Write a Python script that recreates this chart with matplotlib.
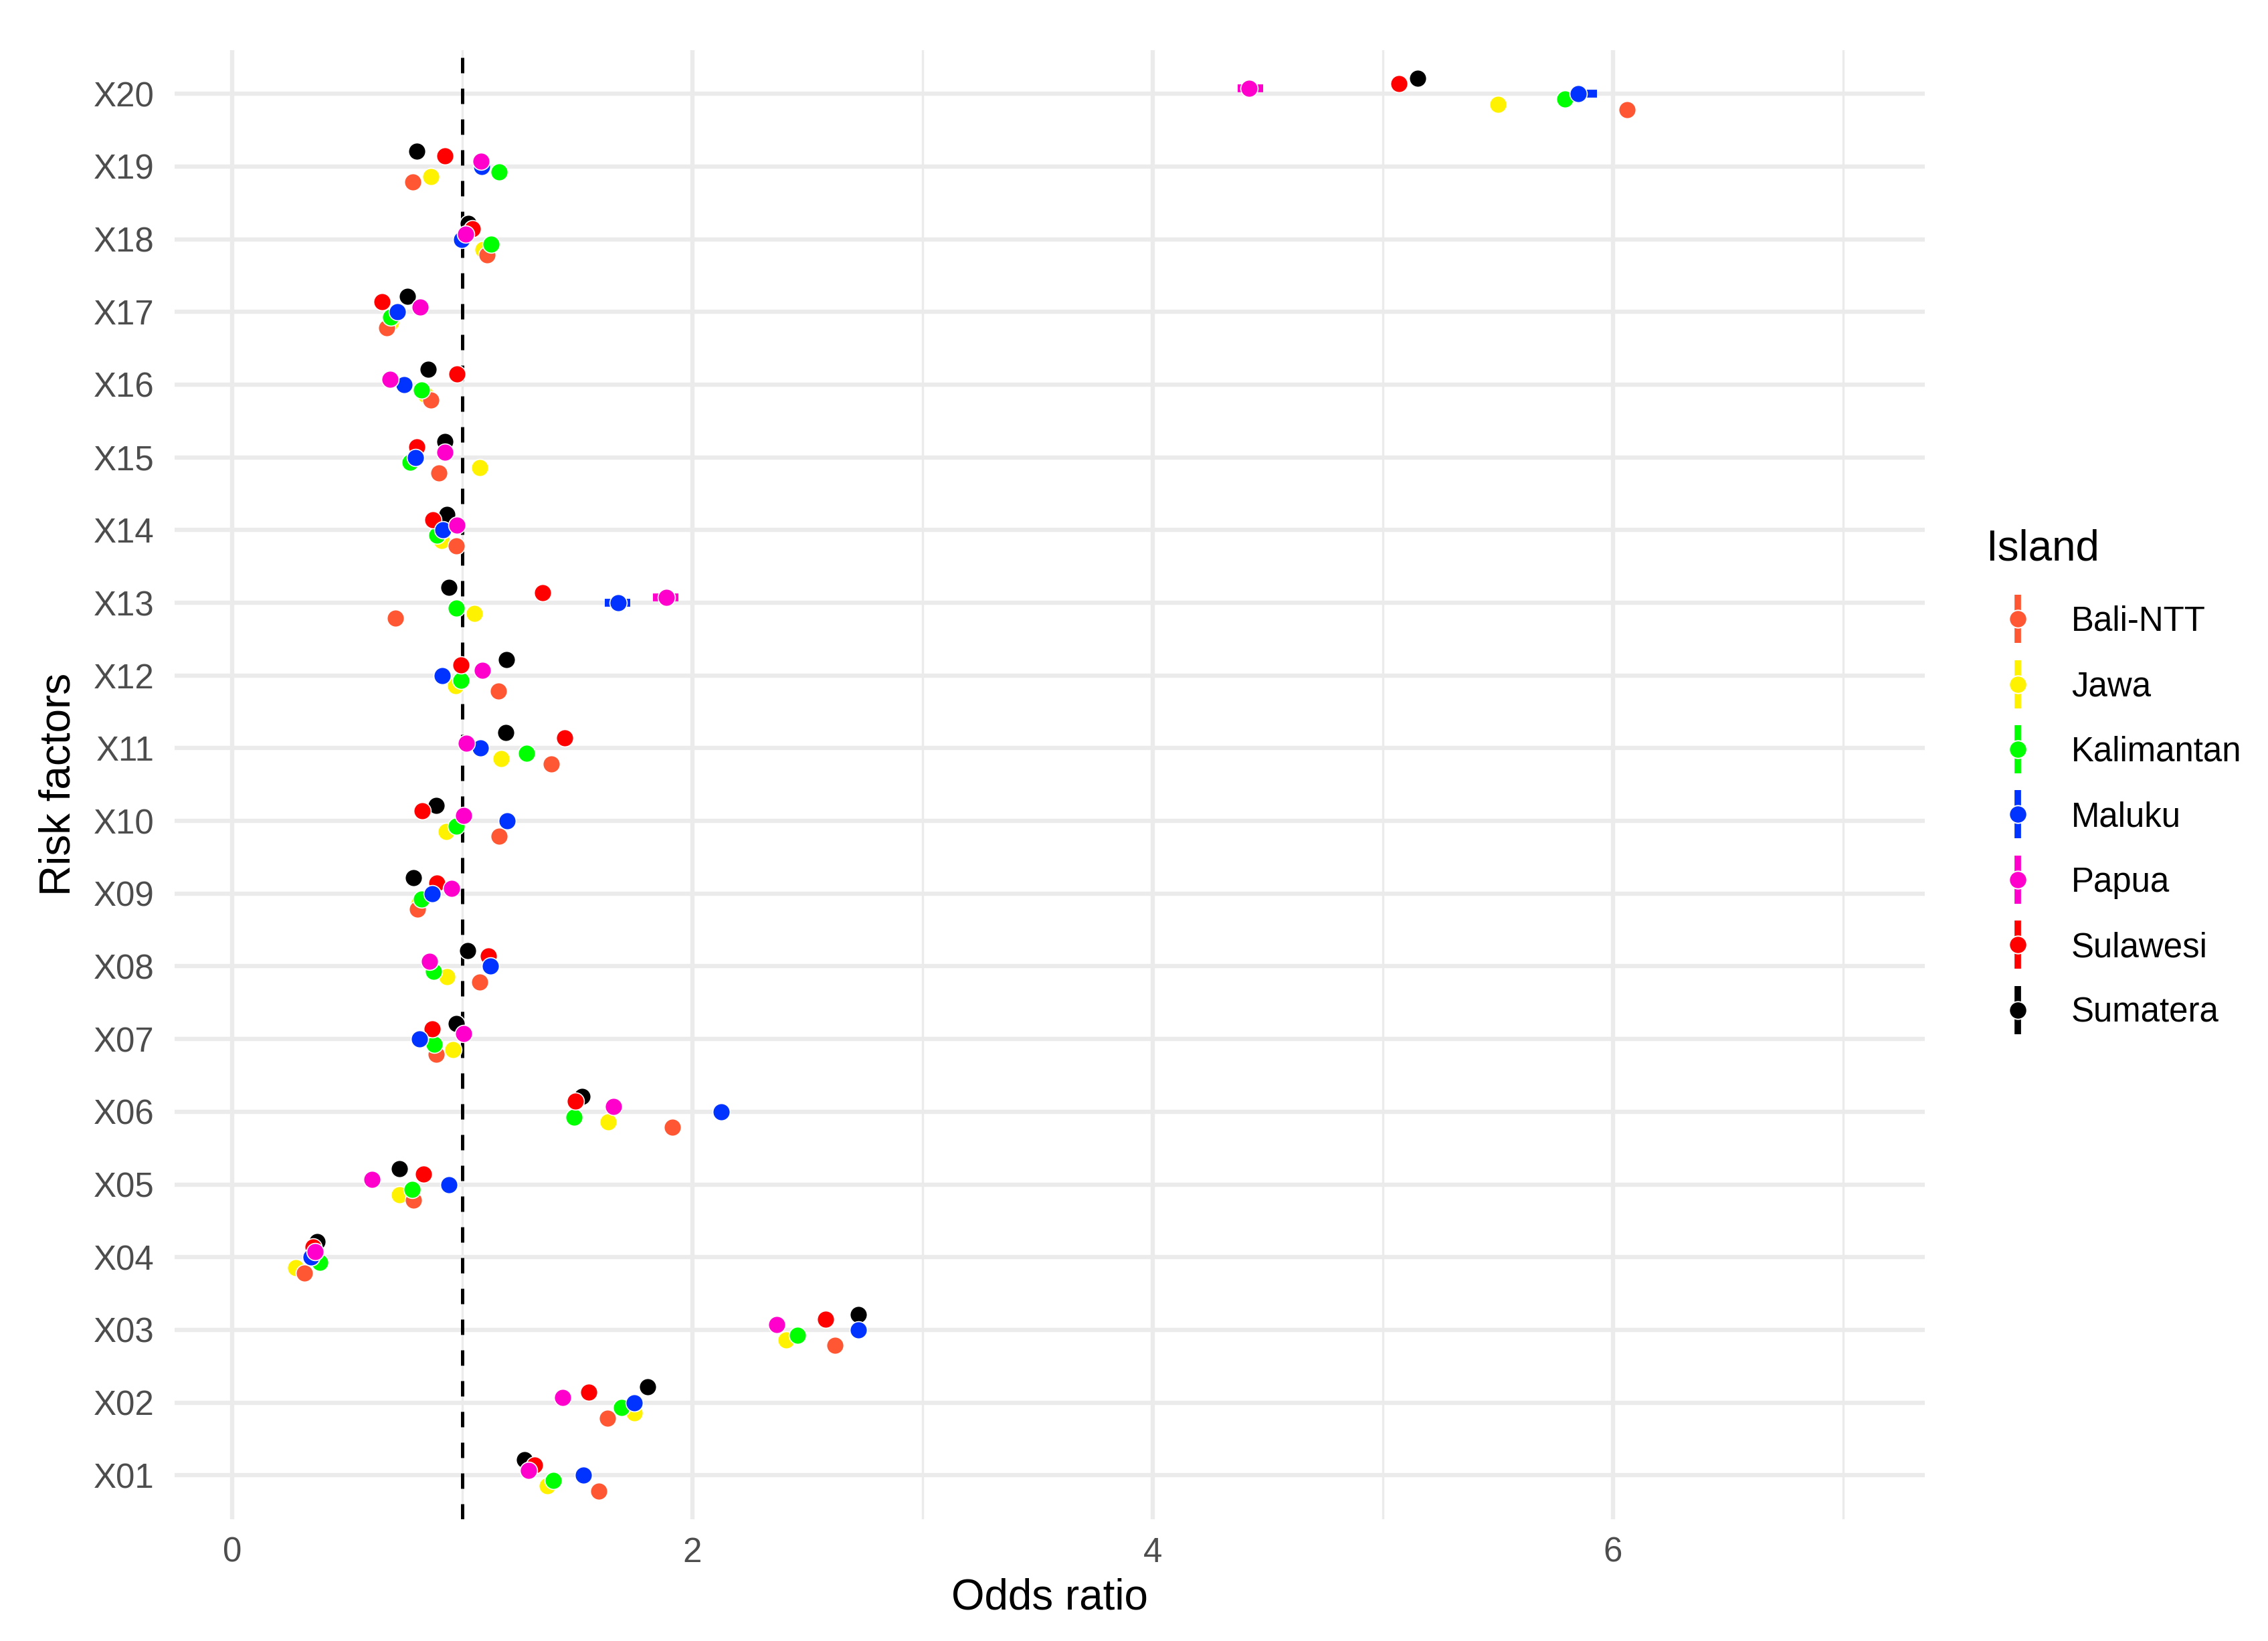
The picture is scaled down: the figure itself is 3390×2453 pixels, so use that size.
import matplotlib
matplotlib.use("Agg")
import matplotlib.pyplot as plt
from matplotlib.lines import Line2D
from matplotlib.legend_handler import HandlerTuple

plt.rcParams['font.family'] = ['Liberation Sans', 'DejaVu Sans']

factors = ["X01", "X02", "X03", "X04", "X05", "X06", "X07", "X08", "X09", "X10",
           "X11", "X12", "X13", "X14", "X15", "X16", "X17", "X18", "X19", "X20"]
islands = ["Bali-NTT", "Jawa", "Kalimantan", "Maluku", "Papua", "Sulawesi", "Sumatera"]
island_colors = ["#FF5733", "#FFF200", "#00FF00", "#0033FF", "#FF00CC", "#FF0000", "#000000"]
draw_order = ["Sumatera", "Jawa", "Bali-NTT", "Kalimantan", "Sulawesi", "Maluku", "Papua"]

# Odds ratios, X01 ... X20
or_bali = [1.594, 1.632, 2.619, 0.314, 0.789, 1.912, 0.886, 1.075, 0.805, 1.160,
           1.386, 1.158, 0.710, 0.974, 0.898, 0.863, 0.672, 1.108, 0.785, 6.060]
or_jawa = [1.370, 1.748, 2.406, 0.275, 0.728, 1.635, 0.958, 0.934, 0.810, 0.931,
           1.169, 0.970, 1.053, 0.910, 1.075, 0.840, 0.690, 1.090, 0.864, 5.500]
or_kalimantan = [1.395, 1.693, 2.456, 0.382, 0.782, 1.486, 0.878, 0.876, 0.823, 0.975,
                 1.278, 0.994, 0.973, 0.890, 0.774, 0.824, 0.690, 1.125, 1.161, 5.790]
or_maluku = [1.527, 1.748, 2.721, 0.343, 0.941, 2.124, 0.813, 1.123, 0.869, 1.196,
             1.080, 0.914, 1.677, 0.917, 0.796, 0.747, 0.717, 0.997, 1.085, 5.850]
or_papua = [1.287, 1.436, 2.365, 0.360, 0.609, 1.657, 1.005, 0.857, 0.953, 1.005,
            1.018, 1.087, 1.888, 0.977, 0.924, 0.686, 0.816, 1.016, 1.082, 4.420]
or_sulawesi = [1.315, 1.549, 2.580, 0.353, 0.830, 1.491, 0.869, 1.113, 0.891, 0.826,
               1.445, 0.994, 1.350, 0.872, 0.801, 0.977, 0.652, 1.045, 0.925, 5.070]
or_sumatera = [1.270, 1.804, 2.721, 0.369, 0.728, 1.519, 0.973, 1.024, 0.789, 0.888,
               1.190, 1.193, 0.942, 0.932, 0.924, 0.851, 0.761, 1.025, 0.803, 5.150]

odds = {
    "Bali-NTT": or_bali, "Jawa": or_jawa, "Kalimantan": or_kalimantan,
    "Maluku": or_maluku, "Papua": or_papua, "Sulawesi": or_sulawesi,
    "Sumatera": or_sumatera,
}

# Confidence intervals that stick out from behind the points
ci_island = ["Papua", "Maluku", "Maluku", "Papua"]
ci_factor = ["X20", "X20", "X13", "X13"]
ci_lower = [4.37, 5.83, 1.62, 1.83]
ci_upper = [4.48, 5.93, 1.73, 1.94]

W, H = 3390, 2453
fig = plt.figure(figsize=(W / 100, H / 100), dpi=100)
px_l, px_r, px_t, px_b = 261, 2877, 75, 2270.5
ax = fig.add_axes([px_l / W, 1 - px_b / H, (px_r - px_l) / W, (px_b - px_t) / H])

grid_c = "#EBEBEB"
ax.set_xlim(-0.25, 7.355)
ax.set_ylim(0.4, len(factors) + 0.6)
ax.set_xticks([0, 2, 4, 6])
ax.set_xticks([1, 3, 5, 7], minor=True)
ax.set_yticks(range(1, len(factors) + 1))
ax.set_yticklabels(factors)
ax.grid(which="major", axis="both", color=grid_c, lw=4.6, zorder=0)
ax.grid(which="minor", axis="x", color=grid_c, lw=2.4, zorder=0)
ax.set_axisbelow(True)
for s in ax.spines.values():
    s.set_visible(False)
ax.tick_params(which="both", length=0)
ax.tick_params(axis="x", labelsize=36.7, labelcolor="#4D4D4D", pad=19)
ax.tick_params(axis="y", labelsize=36.7, labelcolor="#4D4D4D", pad=22)

ax.axvline(1, color="black", lw=3.6, linestyle=(0, (4.6, 4.6)), zorder=2)

dodge = 0.5
n = len(islands)
offset = {isl: (k - (n - 1) / 2) * dodge / n for k, isl in enumerate(islands)}
col = dict(zip(islands, island_colors))

# CI lines
for isl, fac, lo, hi in zip(ci_island, ci_factor, ci_lower, ci_upper):
    y = factors.index(fac) + 1 + offset[isl]
    ax.hlines(y, lo, hi, color=col[isl], lw=8.5, zorder=3)

# points
for z, isl in enumerate(draw_order):
    ys = [i + 1 + offset[isl] for i in range(len(factors))]
    ax.scatter(odds[isl], ys, s=18.6 ** 2, c=col[isl], edgecolors="white",
               linewidths=1.2, zorder=4 + z * 0.01)

ax.set_xlabel("Odds ratio", fontsize=45.9, color="black")
ax.set_ylabel("Risk factors", fontsize=45.9, color="black")
ax.xaxis.label.set_va("center")
ax.yaxis.label.set_va("center")
ax.xaxis.set_label_coords(0.5, (px_b - 2389) / (px_b - px_t))
ax.yaxis.set_label_coords((88 - px_l) / (px_r - px_l), 0.5)

handles = []
for isl in islands:
    c = col[isl]
    vline = Line2D([], [], marker="|", linestyle="None", markersize=52,
                   markeredgewidth=7, color=c)
    pt = Line2D([], [], marker="o", linestyle="None", markersize=19,
                markerfacecolor=c, markeredgecolor="white", markeredgewidth=1.4)
    handles.append((vline, pt))

leg = ax.legend(handles, islands, handler_map={tuple: HandlerTuple(ndivide=1, pad=0)},
                title="Island", loc="upper left",
                bbox_to_anchor=(2968 / W, 1 - 790 / H), bbox_transform=fig.transFigure,
                frameon=False, fontsize=36.7, title_fontsize=45.9,
                handlelength=1.88, handletextpad=0.63, labelspacing=0.95,
                borderpad=0, borderaxespad=0, alignment="left")
# a little more room between the legend title and the first key
leg._legend_box.sep = 0.95 * 36.7 + 4.7

fig.savefig("out.png", dpi=100, facecolor="white")
